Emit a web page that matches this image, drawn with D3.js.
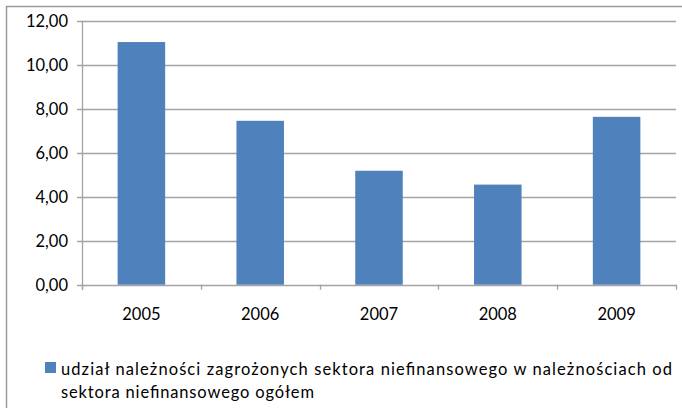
<!DOCTYPE html>
<html>
<head>
<meta charset="utf-8">
<script src="https://cdn.jsdelivr.net/npm/d3@7"></script>
<style>
  body { margin: 0; background: #fff; }
  svg { display: block; }
  text { font-family: Lato, "Open Sans", sans-serif; fill: #000; }
</style>
</head>
<body>
<div id="chart"></div>
<script>
var years = ["2005", "2006", "2007", "2008", "2009"];
var values = [11.03, 7.45, 5.18, 4.55, 7.63];
var yTicks = [0, 2, 4, 6, 8, 10, 12];
var legendLines = [
    "udział należności zagrożonych sektora niefinansowego w należnościach od",
    "sektora niefinansowego ogółem"
];

var width = 682, height = 408;
var plotLeft = 82, plotRight = 676, plotTop = 20.7, plotBottom = 284.7;

var svg = d3.select("#chart")
    .append("svg")
    .attr("width", width)
    .attr("height", height);

// outer frame
svg.append("rect")
    .attr("x", 6.5)
    .attr("y", 6.5)
    .attr("width", 690)
    .attr("height", 420)
    .attr("fill", "none")
    .attr("stroke", "#9a9a9a")
    .attr("stroke-width", 1.5);

var x = d3.scaleBand()
    .domain(years)
    .range([plotLeft, plotRight])
    .paddingInner(0.6)
    .paddingOuter(0.3);

var xEdge = d3.scalePoint()
    .domain(d3.range(years.length + 1))
    .range([plotLeft, plotRight]);

var y = d3.scaleLinear()
    .domain([0, 12])
    .range([plotBottom, plotTop]);

// gridlines + y ticks
svg.selectAll("line.grid")
    .data(yTicks)
    .enter()
    .append("line")
    .attr("class", "grid")
    .attr("x1", plotLeft - 5)
    .attr("x2", plotRight)
    .attr("y1", function(d){return Math.round(y(d)) + 0.5})
    .attr("y2", function(d){return Math.round(y(d)) + 0.5})
    .attr("stroke", "#a3a3a3")
    .attr("stroke-width", 1.3);

svg.selectAll("text.ylab")
    .data(yTicks)
    .enter()
    .append("text")
    .attr("class", "ylab")
    .attr("x", 68)
    .attr("y", function(d){return y(d)})
    .attr("dy", "0.36em")
    .attr("text-anchor", "end")
    .style("font-size", "16.5px")
    .text(function(d){return d3.format(".2f")(d).replace(".", ",")});

// y axis line
svg.append("line")
    .attr("x1", plotLeft + 0.5).attr("x2", plotLeft + 0.5)
    .attr("y1", plotTop).attr("y2", plotBottom + 5)
    .attr("stroke", "#a3a3a3")
    .attr("stroke-width", 1.3);

// category tick marks
svg.selectAll("line.xtick")
    .data(d3.range(years.length + 1))
    .enter()
    .append("line")
    .attr("class", "xtick")
    .attr("x1", function(d){return Math.round(xEdge(d)) + 0.5})
    .attr("x2", function(d){return Math.round(xEdge(d)) + 0.5})
    .attr("y1", plotBottom)
    .attr("y2", plotBottom + 5)
    .attr("stroke", "#a3a3a3")
    .attr("stroke-width", 1.3);

// bars
svg.selectAll("rect.bar")
    .data(values)
    .enter()
    .append("rect")
    .attr("class", "bar")
    .attr("x", function(d, i){return x(years[i])})
    .attr("y", function(d){return y(d)})
    .attr("width", x.bandwidth())
    .attr("height", function(d){return y(0) - y(d)})
    .attr("fill", "#4f81bd");

svg.selectAll("text.xlab")
    .data(years)
    .enter()
    .append("text")
    .attr("class", "xlab")
    .attr("x", function(d){return x(d) + x.bandwidth() / 2})
    .attr("y", 320)
    .attr("text-anchor", "middle")
    .style("font-size", "16.5px")
    .text(function(d){return d});

// legend
svg.append("rect")
    .attr("x", 45)
    .attr("y", 362)
    .attr("width", 11)
    .attr("height", 11)
    .attr("fill", "#4f81bd");

var legendEnds = [672, 314];
svg.selectAll("text.leg")
    .data(legendLines)
    .enter()
    .append("text")
    .attr("class", "leg")
    .attr("x", 61)
    .attr("y", function(d, i){return 375 + i * 23})
    .style("font-size", "16.5px")
    .attr("textLength", function(d, i){return legendEnds[i] - 61})
    .attr("lengthAdjust", "spacing")
    .text(function(d){return d});
</script>
</body>
</html>
